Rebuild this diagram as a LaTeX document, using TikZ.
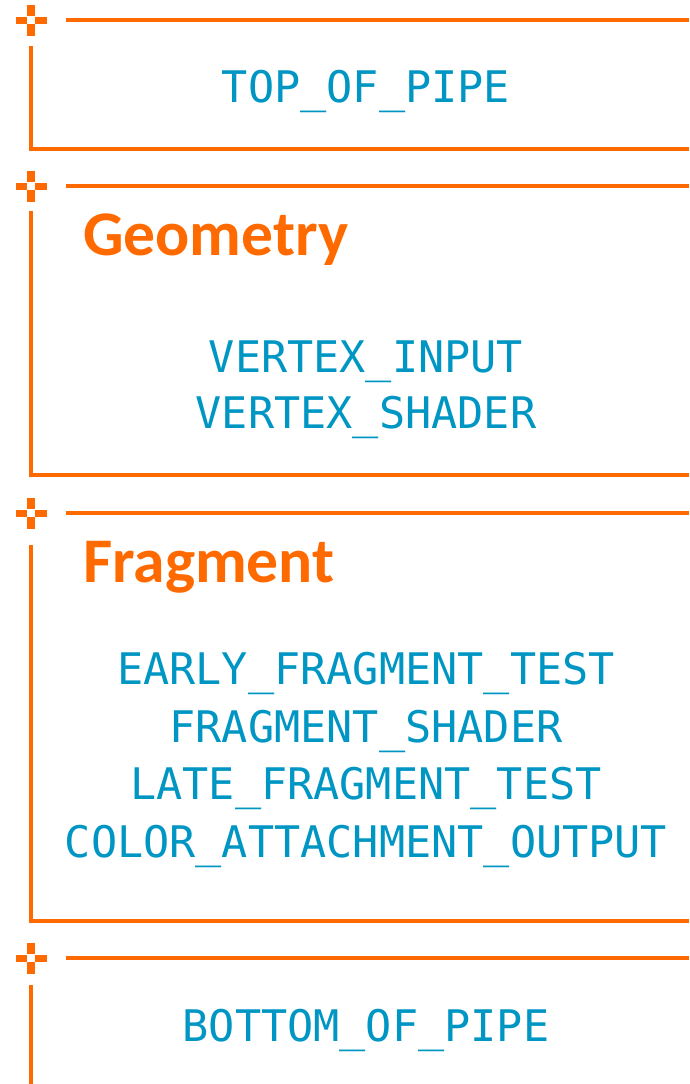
\documentclass[tikz,border=0pt]{standalone}
\usepackage{fontspec}
\setmonofont{DejaVu Sans Mono}
\newfontfamily\headfont{Carlito}
\definecolor{stageorange}{RGB}{255,106,0}
\definecolor{stageblue}{RGB}{0,150,196}
\tikzset{
  rule/.style={draw=stageorange, line width=4pt},
  corner/.style={draw=stageorange, line width=4pt, line cap=butt, line join=miter},
  plusarm/.style={fill=stageorange, draw=none},
  stagename/.style={text=stageblue, font=\ttfamily\fontsize{43.5}{57}\selectfont,
    anchor=base, inner sep=0pt},
  heading/.style={text=stageorange, font=\headfont\bfseries\fontsize{63.6}{70}\selectfont,
    anchor=base west, inner sep=0pt}
}
% a section marker: a cross with its centre left open
\newcommand{\stagecross}[2]{%
  \fill[plusarm] (#1-15.5,#2-3.5) rectangle (#1-3.8,#2+3.5);
  \fill[plusarm] (#1+3.8,#2-3.5) rectangle (#1+15.5,#2+3.5);
  \fill[plusarm] (#1-3.8,#2-15.5) rectangle (#1+3.8,#2-3.8);
  \fill[plusarm] (#1-3.8,#2+3.8) rectangle (#1+3.8,#2+15.5);
}
\begin{document}
\begin{tikzpicture}[x=1pt,y=-1pt]
\useasboundingbox (0,0) rectangle (689,1084);

% ---- TOP_OF_PIPE ----
\stagecross{31}{20}
\coordinate (t1) at (66,20);
\coordinate (t1e) at (689,20);
\coordinate (v1) at (31,46);
\coordinate (b1) at (31,149);
\coordinate (b1e) at (689,149);
\draw[rule] (t1) -- (t1e);
\draw[corner] (v1) -- (b1) -- (b1e);
\node[stagename] (top) at (366,102) {TOP\_OF\_PIPE};

% ---- Geometry ----
\stagecross{31}{186}
\coordinate (t2) at (66,186);
\coordinate (t2e) at (689,186);
\coordinate (v2) at (31,211);
\coordinate (b2) at (31,475);
\coordinate (b2e) at (689,475);
\draw[rule] (t2) -- (t2e);
\draw[corner] (v2) -- (b2) -- (b2e);
\node[heading] (geo) at (83,255) {Geometry};
\node[stagename] (vin) at (366,372) {VERTEX\_INPUT};
\node[stagename] (vsh) at (366,428) {VERTEX\_SHADER};

% ---- Fragment ----
\stagecross{31}{513}
\coordinate (t3) at (66,513);
\coordinate (t3e) at (689,513);
\coordinate (v3) at (31,545);
\coordinate (b3) at (31,921);
\coordinate (b3e) at (689,921);
\draw[rule] (t3) -- (t3e);
\draw[corner] (v3) -- (b3) -- (b3e);
\node[heading] (frag) at (83,582) {Fragment};
\node[stagename] (eft) at (366,684) {EARLY\_FRAGMENT\_TEST};
\node[stagename] (fsh) at (366,742) {FRAGMENT\_SHADER};
\node[stagename] (lft) at (366,799) {LATE\_FRAGMENT\_TEST};
\node[stagename] (cao) at (366,857) {COLOR\_ATTACHMENT\_OUTPUT};

% ---- BOTTOM_OF_PIPE ----
\stagecross{31}{958}
\coordinate (t4) at (66,958);
\coordinate (t4e) at (689,958);
\coordinate (v4) at (31,985);
\coordinate (b4) at (31,1084);
\draw[rule] (t4) -- (t4e);
\draw[corner] (v4) -- (b4);
\node[stagename] (bot) at (366,1041) {BOTTOM\_OF\_PIPE};
\end{tikzpicture}
\end{document}
